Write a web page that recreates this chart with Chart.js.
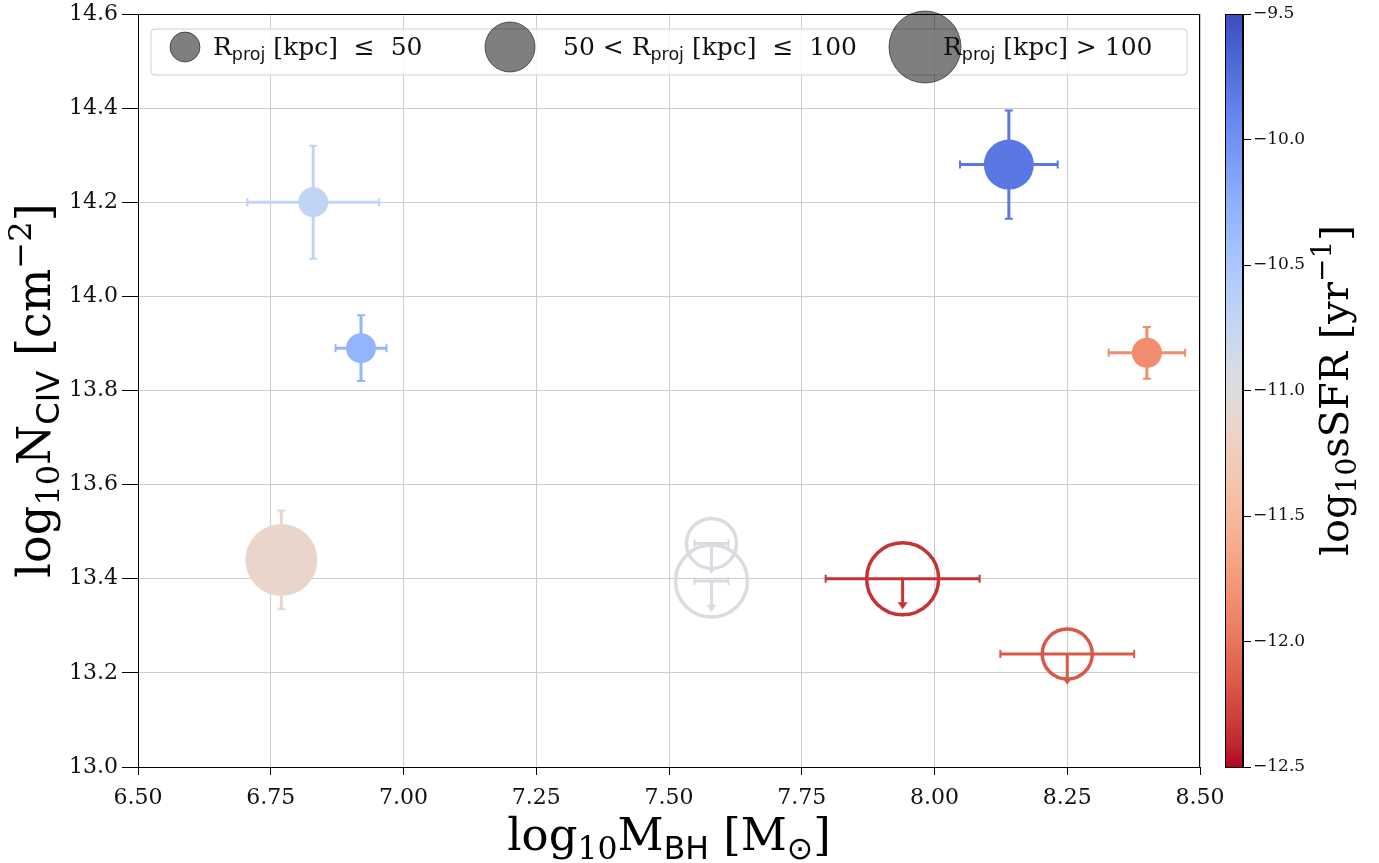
<!DOCTYPE html>
<html lang="en">
<head>
    <meta charset="UTF-8">
    <title>N_CIV vs M_BH</title>
    <script src="https://cdn.jsdelivr.net/npm/chart.js"></script>
    <style>
        body { margin: 0; background: #fff; }
        #wrap { position: relative; width: 1379px; height: 863px; }
        #main { position: absolute; left: 0; top: 0; }
        #cbar { position: absolute; left: 1215px; top: 0; }
    </style>
</head>
<body>
<div id="wrap">
    <canvas id="main" width="1379" height="863"></canvas>
    <canvas id="cbar" width="164" height="863"></canvas>
</div>
<script>
    // values
    const massBH   = [6.83, 6.92, 6.77, 7.58, 7.58, 7.94, 8.25, 8.14, 8.40];
    const massErr  = [0.124, 0.048, 0, 0.032, 0.032, 0.145, 0.126, 0.092, 0.072];
    const nCIV     = [14.20, 13.89, 13.44, 13.475, 13.395, 13.40, 13.24, 14.28, 13.88];
    const nCIVErr  = [0.12, 0.07, 0.105, 0.065, 0.065, 0.065, 0.065, 0.115, 0.055];
    const upperLim = [false, false, false, true, true, true, true, false, false];
    const sSFR     = [-10.7, -10.3, -11.15, -10.95, -10.95, -12.36, -12.17, -9.8, -11.85];
    const rBin     = [0, 0, 2, 1, 2, 2, 1, 1, 0];   // 0: <=50, 1: 50-100, 2: >100 kpc
    const binRadius = [15, 25, 36];
    const cbarTicks = [-12.5, -12.0, -11.5, -11.0, -10.5, -10.0, -9.5];
    const sfrMin = -12.5, sfrMax = -9.5;

    // matplotlib coolwarm LUT (33 samples)
    const coolwarm = [
        [59,76,192],[68,90,204],[77,104,215],[87,117,225],[98,130,234],[108,142,241],
        [119,154,247],[130,165,251],[141,176,254],[152,185,255],[163,194,255],[174,201,253],
        [184,208,249],[194,213,244],[204,217,238],[213,219,230],[221,221,221],[229,216,209],
        [236,211,197],[241,204,184],[245,196,172],[247,187,160],[247,177,148],[247,166,135],
        [244,154,123],[241,141,111],[236,127,99],[229,112,88],[222,96,77],[213,80,66],
        [203,62,56],[192,40,47],[180,4,38]
    ];
    function cmap(t) {
        t = Math.min(1, Math.max(0, t)) * (coolwarm.length - 1);
        const i = Math.min(Math.floor(t), coolwarm.length - 2), f = t - i;
        const a = coolwarm[i], b = coolwarm[i + 1];
        return 'rgb(' + a.map((v, k) => Math.round(v + (b[k] - v) * f)).join(',') + ')';
    }
    // reversed map: high sSFR -> blue
    const sfrColor = v => cmap((sfrMax - v) / (sfrMax - sfrMin));
    const colors = sSFR.map(sfrColor);

    const SERIF = '"DejaVu Serif"', SANS = '"DejaVu Sans"';

    // draws text with sub/superscripts; parts = [text, family, scale, shift(em)]
    function richText(ctx, parts, size, x, y, angle, align) {
        ctx.save();
        ctx.translate(x, y);
        ctx.rotate(angle || 0);
        ctx.textBaseline = 'alphabetic';
        ctx.textAlign = 'left';
        let w = 0;
        for (const p of parts) {
            ctx.font = (size * (p[2] || 1)) + 'px ' + (p[1] || SERIF);
            w += ctx.measureText(p[0]).width;
        }
        let cx = align === 'left' ? 0 : -w / 2;
        for (const p of parts) {
            ctx.font = (size * (p[2] || 1)) + 'px ' + (p[1] || SERIF);
            ctx.fillText(p[0], cx, (p[3] || 0) * size);
            cx += ctx.measureText(p[0]).width;
        }
        ctx.restore();
    }
    const sub = t => [t, SERIF, 0.7, 0.2];
    const subS = t => [t, SANS, 0.7, 0.2];
    const sup = t => [t, SERIF, 0.7, -0.42];

    const errorBars = {
        id: 'errorBars',
        beforeDatasetsDraw(chart) {
            const ctx = chart.ctx, xs = chart.scales.x, ys = chart.scales.y;
            ctx.save();
            for (let i = 0; i < massBH.length; i++) {
                const px = xs.getPixelForValue(massBH[i]);
                const py = ys.getPixelForValue(nCIV[i]);
                ctx.strokeStyle = colors[i];
                ctx.fillStyle = colors[i];
                if (massErr[i] > 0) {
                    const x0 = xs.getPixelForValue(massBH[i] - massErr[i]);
                    const x1 = xs.getPixelForValue(massBH[i] + massErr[i]);
                    ctx.lineWidth = 3;
                    ctx.beginPath(); ctx.moveTo(x0, py); ctx.lineTo(x1, py); ctx.stroke();
                    ctx.lineWidth = 2;
                    ctx.beginPath();
                    ctx.moveTo(x0, py - 4); ctx.lineTo(x0, py + 4);
                    ctx.moveTo(x1, py - 4); ctx.lineTo(x1, py + 4);
                    ctx.stroke();
                }
                if (upperLim[i]) {
                    const yb = ys.getPixelForValue(nCIV[i] - nCIVErr[i]);
                    ctx.lineWidth = 3;
                    ctx.beginPath(); ctx.moveTo(px, py); ctx.lineTo(px, yb - 6); ctx.stroke();
                    ctx.beginPath();
                    ctx.moveTo(px - 5, yb - 7); ctx.lineTo(px + 5, yb - 7); ctx.lineTo(px, yb);
                    ctx.closePath(); ctx.fill();
                } else {
                    const y0 = ys.getPixelForValue(nCIV[i] + nCIVErr[i]);
                    const y1 = ys.getPixelForValue(nCIV[i] - nCIVErr[i]);
                    ctx.lineWidth = 3;
                    ctx.beginPath(); ctx.moveTo(px, y0); ctx.lineTo(px, y1); ctx.stroke();
                    ctx.lineWidth = 2;
                    ctx.beginPath();
                    ctx.moveTo(px - 4, y0); ctx.lineTo(px + 4, y0);
                    ctx.moveTo(px - 4, y1); ctx.lineTo(px + 4, y1);
                    ctx.stroke();
                }
            }
            ctx.restore();
        }
    };

    const decorations = {
        id: 'decorations',
        afterDraw(chart) {
            const ctx = chart.ctx, a = chart.chartArea;
            ctx.save();
            // frame
            ctx.strokeStyle = '#000';
            ctx.lineWidth = 1;
            ctx.strokeRect(a.left + 0.5, a.top + 0.5, a.right - a.left - 1, a.bottom - a.top);

            // legend box
            const bx = a.left + 13, by = a.top + 15, bw = a.right - a.left - 26, bh = 46;
            ctx.fillStyle = 'rgba(255,255,255,0.8)';
            ctx.strokeStyle = '#d0d0d0';
            ctx.beginPath();
            ctx.roundRect(bx, by, bw, bh, 4);
            ctx.fill(); ctx.stroke();
            const cy = by + 18;
            const items = [
                { cx: 47, tx: 75, parts: [['R'], subS('proj'), [' [kpc]  \u2264  50']] },
                { cx: 372, tx: 425, parts: [['50 < R'], subS('proj'), [' [kpc]  \u2264  100']] },
                { cx: 787, tx: 805, parts: [['R'], subS('proj'), [' [kpc] > 100']] }
            ];
            items.forEach((it, k) => {
                ctx.fillStyle = 'rgba(0,0,0,0.5)';
                ctx.strokeStyle = 'rgba(0,0,0,0.55)';
                ctx.lineWidth = 1;
                ctx.beginPath();
                ctx.arc(a.left + it.cx, cy, binRadius[k], 0, Math.PI * 2);
                ctx.fill(); ctx.stroke();
                ctx.fillStyle = '#111';
                richText(ctx, it.parts, 25, a.left + it.tx, cy + 8, 0, 'left');
            });

            // axis titles
            ctx.fillStyle = '#000';
            richText(ctx, [['log'], sub('10'), ['M'], subS('BH'), [' [M'], subS('\u2299'), [']']],
                45, (a.left + a.right) / 2, 850, 0);
            richText(ctx, [['log'], sub('10'), ['N'], subS('CIV'), [' [cm'], sup('\u22122'), [']']],
                46, 50, (a.top + a.bottom) / 2, -Math.PI / 2);
            ctx.restore();
        }
    };

    new Chart(document.getElementById('main'), {
        type: 'scatter',
        data: {
            datasets: [{
                data: massBH.map((m, i) => ({ x: m, y: nCIV[i] })),
                pointRadius: rBin.map(b => binRadius[b]),
                pointHoverRadius: rBin.map(b => binRadius[b]),
                pointBackgroundColor: colors.map((c, i) => upperLim[i] ? 'rgba(0,0,0,0)' : c),
                pointBorderColor: colors,
                pointBorderWidth: upperLim.map(u => u ? 3.5 : 0),
                clip: false
            }]
        },
        options: {
            responsive: false,
            animation: false,
            events: [],
            layout: { autoPadding: false, padding: { top: 14, right: 179, left: 0, bottom: 0 } },
            plugins: { legend: { display: false }, tooltip: { enabled: false } },
            scales: {
                x: {
                    min: 6.5, max: 8.5,
                    afterFit(scale) {
                        scale.height = 96;
                        scale.paddingLeft = 0;
                        scale.paddingRight = 0;
                    },
                    grid: { color: '#cccccc', tickColor: '#000', tickLength: 8 },
                    border: { color: '#000' },
                    ticks: {
                        stepSize: 0.25, autoSkip: false, maxRotation: 0, padding: 10,
                        color: '#111', font: { family: 'DejaVu Serif', size: 22 },
                        callback: v => Number(v).toFixed(2)
                    }
                },
                y: {
                    min: 13.0, max: 14.6,
                    afterFit(scale) {
                        scale.width = 138;
                        scale.paddingTop = 0;
                        scale.paddingBottom = 0;
                    },
                    grid: { color: '#cccccc', tickColor: '#000', tickLength: 16 },
                    border: { color: '#000' },
                    ticks: {
                        stepSize: 0.2, padding: 4,
                        color: '#111', font: { family: 'DejaVu Serif', size: 22 },
                        callback: v => Number(v).toFixed(1)
                    }
                }
            }
        },
        plugins: [errorBars, decorations]
    });

    // colour bar
    const cbarPaint = {
        id: 'cbarPaint',
        beforeDatasetsDraw(chart) {
            const ctx = chart.ctx, a = chart.chartArea, ys = chart.scales.y;
            const g = ctx.createLinearGradient(0, ys.getPixelForValue(sfrMax), 0, ys.getPixelForValue(sfrMin));
            for (let k = 0; k <= 32; k++) {
                const v = sfrMax - (sfrMax - sfrMin) * k / 32;
                g.addColorStop(k / 32, sfrColor(v));
            }
            ctx.save();
            ctx.fillStyle = g;
            ctx.fillRect(a.left, a.top, a.right - a.left, a.bottom - a.top);
            ctx.strokeStyle = '#000';
            ctx.lineWidth = 1;
            ctx.strokeRect(a.left + 0.5, a.top + 0.5, a.right - a.left - 1, a.bottom - a.top);
            ctx.fillStyle = '#000';
            richText(ctx, [['log'], sub('10'), ['sSFR [yr'], sup('\u22121'), [']']],
                40, 133, (a.top + a.bottom) / 2, -Math.PI / 2);
            ctx.restore();
        }
    };

    new Chart(document.getElementById('cbar'), {
        type: 'scatter',
        data: { datasets: [] },
        options: {
            responsive: false,
            animation: false,
            events: [],
            layout: { autoPadding: false, padding: { top: 14, left: 10, right: 0, bottom: 96 } },
            plugins: { legend: { display: false }, tooltip: { enabled: false } },
            scales: {
                x: { display: false, min: 0, max: 1 },
                y: {
                    position: 'right',
                    min: sfrMin, max: sfrMax,
                    afterFit(scale) { scale.width = 136; },
                    afterBuildTicks(scale) { scale.ticks = cbarTicks.map(v => ({ value: v })); },
                    grid: { drawOnChartArea: false, color: '#000', tickLength: 8 },
                    border: { color: '#000' },
                    ticks: {
                        padding: 2, color: '#111',
                        font: { family: 'DejaVu Serif', size: 17 },
                        callback: v => (v < 0 ? '\u2212' : '') + Math.abs(v).toFixed(1)
                    }
                }
            }
        },
        plugins: [cbarPaint]
    });
</script>
</body>
</html>
